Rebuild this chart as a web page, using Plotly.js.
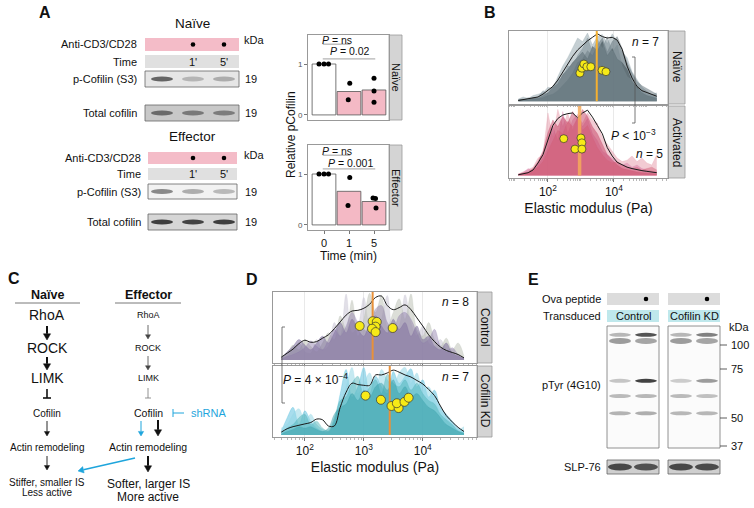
<!DOCTYPE html>
<html>
<head>
<meta charset="utf-8">
<script src="https://cdn.plot.ly/plotly-3.0.1.min.js"></script>
<style>
  html, body { margin: 0; padding: 0; background: #fff; }
  #fig { width: 754px; height: 508px; }
</style>
</head>
<body>
<div id="fig"></div>
<script>
var FONT = "Liberation Sans, Arial, sans-serif";
var W = 754, H = 508;

// ---------- panel A: relative pCofilin ----------
var timeLabels = ["0", "1", "5"];
var naiveBar = [1.0, 0.46, 0.49];
var effectorBar = [1.0, 0.66, 0.46];
var naiveDotTime = [0, 0, 0, 1, 1, 2, 2, 2];
var naiveDotVal = [1, 1, 1, 0.62, 0.30, 0.72, 0.47, 0.25];
var effectorDotTime = [0, 0, 0, 1, 1, 2, 2, 2];
var effectorDotVal = [1, 1, 1, 0.93, 0.38, 0.53, 0.52, 0.33];
var naiveJitter = [-0.2, 0, 0.18, 0.03, -0.03, 0, 0, 0];
var effectorJitter = [-0.2, 0, 0.18, 0.03, -0.04, -0.04, 0.06, 0.08];

// blot band intensities (0 = none, 1 = black), lanes: 0, 1', 5'
var pCofNaive = [0.75, 0.3, 0.35];
var totCofNaive = [0.7, 0.62, 0.6];
var pCofEffector = [0.55, 0.35, 0.28];
var totCofEffector = [0.95, 0.92, 0.95];

// ---------- panel B: elastic modulus, naive vs activated ----------
var logGridB = [1.1, 1.25, 1.4, 1.55, 1.7, 1.85, 2.0, 2.15, 2.3, 2.45, 2.6, 2.75, 2.9, 3.05, 3.2,
  3.35, 3.5, 3.65, 3.8, 3.95, 4.1, 4.25, 4.4, 4.55, 4.7, 4.85, 5.0, 5.15, 5.3];
var naiveMean = [0.01, 0.02, 0.03, 0.04, 0.06, 0.10, 0.15, 0.21, 0.30, 0.42, 0.53, 0.64, 0.73, 0.80, 0.86,
  0.91, 0.96, 0.92, 0.90, 0.91, 0.87, 0.74, 0.50, 0.33, 0.21, 0.15, 0.12, 0.10, 0.07];
var naiveCell1 = [0.02, 0.03, 0.02, 0.05, 0.04, 0.08, 0.12, 0.20, 0.25, 0.38, 0.45, 0.55, 0.62, 0.70, 0.60,
  0.78, 0.72, 0.85, 0.65, 0.75, 0.60, 0.55, 0.45, 0.28, 0.20, 0.12, 0.08, 0.06, 0.04];
var naiveCell2 = [0.03, 0.06, 0.04, 0.08, 0.10, 0.12, 0.20, 0.18, 0.35, 0.50, 0.62, 0.75, 0.90, 0.85, 0.97,
  0.80, 0.92, 0.95, 0.82, 0.96, 0.85, 0.70, 0.62, 0.42, 0.30, 0.20, 0.14, 0.09, 0.12];
var naiveCell3 = [0.01, 0.02, 0.05, 0.04, 0.06, 0.15, 0.10, 0.22, 0.30, 0.33, 0.50, 0.48, 0.65, 0.75, 0.90,
  0.70, 0.88, 0.75, 0.92, 0.70, 0.80, 0.50, 0.35, 0.30, 0.18, 0.15, 0.10, 0.07, 0.05];
var naiveCell4 = [0.00, 0.01, 0.02, 0.03, 0.05, 0.05, 0.08, 0.10, 0.15, 0.22, 0.30, 0.40, 0.55, 0.60, 0.72,
  0.65, 0.80, 0.90, 0.70, 0.85, 0.92, 0.75, 0.55, 0.40, 0.28, 0.22, 0.18, 0.15, 0.10];
var activMean = [0.01, 0.02, 0.04, 0.08, 0.18, 0.30, 0.50, 0.72, 0.82, 0.87, 0.89, 0.90, 0.83, 0.90, 0.94,
  0.84, 0.72, 0.60, 0.40, 0.28, 0.19, 0.15, 0.12, 0.10, 0.08, 0.07, 0.06, 0.05, 0.04];
var activCell1 = [0.02, 0.03, 0.05, 0.10, 0.20, 0.35, 0.62, 0.80, 0.70, 0.85, 0.75, 0.92, 0.80, 0.95, 0.85,
  0.70, 0.60, 0.45, 0.30, 0.22, 0.15, 0.10, 0.08, 0.06, 0.05, 0.04, 0.03, 0.02, 0.02];
var activCell2 = [0.02, 0.05, 0.08, 0.12, 0.25, 0.30, 0.90, 0.55, 0.95, 0.70, 0.90, 0.65, 0.85, 0.75, 0.90,
  0.80, 0.75, 0.55, 0.45, 0.35, 0.25, 0.20, 0.22, 0.28, 0.20, 0.25, 0.18, 0.15, 0.30];
var activCell3 = [0.01, 0.04, 0.10, 0.06, 0.15, 0.25, 0.40, 0.70, 0.50, 0.92, 0.60, 0.80, 0.88, 0.70, 0.82,
  0.60, 0.50, 0.35, 0.30, 0.25, 0.20, 0.15, 0.18, 0.12, 0.15, 0.10, 0.08, 0.06, 0.05];
var activCell4 = [0.00, 0.02, 0.03, 0.08, 0.12, 0.20, 0.35, 0.50, 0.65, 0.60, 0.78, 0.70, 0.82, 0.65, 0.72,
  0.55, 0.40, 0.30, 0.22, 0.18, 0.20, 0.15, 0.12, 0.10, 0.12, 0.08, 0.10, 0.12, 0.08];
var medianLogB = [3.48, 2.96];
var naiveCellLogE = [2.97, 3.03, 3.09, 3.18, 3.30, 3.64, 3.76];
var naiveCellY = [0.40, 0.47, 0.53, 0.49, 0.49, 0.44, 0.42];
var activCellLogE = [2.48, 3.00, 3.03, 2.82, 3.03];
var activCellY = [0.53, 0.54, 0.47, 0.38, 0.38];

// ---------- panel D: control vs cofilin KD ----------
var logGridD = [1.6, 1.7, 1.8, 1.9, 2.0, 2.1, 2.2, 2.3, 2.4, 2.5, 2.6, 2.7, 2.8, 2.9, 3.0, 3.1,
  3.2, 3.3, 3.4, 3.5, 3.6, 3.7, 3.8, 3.9, 4.0, 4.1, 4.2, 4.3, 4.4, 4.5, 4.6, 4.7];
var ctrlMean = [0.04, 0.10, 0.16, 0.24, 0.29, 0.26, 0.27, 0.32, 0.37, 0.46, 0.56, 0.66, 0.72, 0.73, 0.76, 0.82,
  0.92, 0.94, 0.80, 0.74, 0.77, 0.81, 0.74, 0.62, 0.50, 0.37, 0.27, 0.19, 0.14, 0.11, 0.08, 0.03];
var ctrlCell1 = [0.02, 0.06, 0.15, 0.25, 0.12, 0.10, 0.30, 0.15, 0.20, 0.55, 0.35, 0.97, 0.40, 0.50, 0.92, 0.45,
  0.30, 0.60, 0.95, 0.40, 0.50, 0.96, 0.55, 0.35, 0.50, 0.25, 0.20, 0.30, 0.15, 0.10, 0.05, 0.03];
var ctrlCell2 = [0.05, 0.10, 0.22, 0.15, 0.30, 0.20, 0.12, 0.25, 0.40, 0.30, 0.65, 0.45, 0.88, 0.35, 0.60, 0.98,
  0.70, 0.95, 0.50, 0.70, 0.90, 0.60, 0.97, 0.45, 0.35, 0.55, 0.30, 0.20, 0.32, 0.15, 0.25, 0.05];
var ctrlCell3 = [0.03, 0.12, 0.20, 0.30, 0.22, 0.15, 0.25, 0.35, 0.25, 0.40, 0.55, 0.40, 0.60, 0.45, 0.35, 0.55,
  0.65, 0.50, 0.40, 0.60, 0.45, 0.55, 0.35, 0.50, 0.30, 0.35, 0.20, 0.15, 0.25, 0.10, 0.06, 0.02];
var ctrlCell4 = [0.01, 0.05, 0.08, 0.12, 0.18, 0.28, 0.20, 0.15, 0.30, 0.45, 0.35, 0.50, 0.70, 0.55, 0.45, 0.40,
  0.75, 0.80, 0.55, 0.45, 0.65, 0.70, 0.60, 0.40, 0.25, 0.30, 0.45, 0.20, 0.12, 0.18, 0.08, 0.02];
var kdMean = [0.04, 0.09, 0.12, 0.14, 0.16, 0.18, 0.23, 0.22, 0.13, 0.13, 0.40, 0.62, 0.75, 0.73, 0.72, 0.72,
  0.87, 0.87, 0.90, 0.94, 0.91, 0.87, 0.84, 0.79, 0.74, 0.66, 0.57, 0.42, 0.28, 0.19, 0.11, 0.05];
var kdCell1 = [0.05, 0.25, 0.40, 0.15, 0.35, 0.20, 0.10, 0.05, 0.04, 0.20, 0.60, 0.95, 0.55, 0.70, 0.98, 0.60,
  0.85, 0.70, 0.60, 0.92, 0.75, 0.85, 0.96, 0.70, 0.80, 0.55, 0.65, 0.40, 0.30, 0.20, 0.10, 0.05];
var kdCell2 = [0.10, 0.15, 0.30, 0.38, 0.20, 0.30, 0.15, 0.08, 0.05, 0.15, 0.45, 0.70, 0.98, 0.60, 0.75, 0.90,
  0.65, 0.95, 0.80, 0.70, 0.90, 0.98, 0.75, 0.90, 0.65, 0.70, 0.50, 0.35, 0.25, 0.15, 0.08, 0.12];
var kdCell3 = [0.02, 0.10, 0.15, 0.25, 0.30, 0.15, 0.20, 0.10, 0.06, 0.25, 0.50, 0.55, 0.75, 0.85, 0.55, 0.70,
  0.80, 0.60, 0.88, 0.75, 0.70, 0.80, 0.65, 0.75, 0.60, 0.50, 0.45, 0.30, 0.22, 0.15, 0.06, 0.03];
var kdCell4 = [0.01, 0.05, 0.08, 0.12, 0.10, 0.12, 0.08, 0.05, 0.10, 0.30, 0.40, 0.45, 0.60, 0.50, 0.65, 0.55,
  0.70, 0.75, 0.65, 0.80, 0.60, 0.70, 0.55, 0.60, 0.50, 0.40, 0.35, 0.25, 0.15, 0.10, 0.05, 0.02];
var medianLogD = [3.15, 3.44];
var ctrlCellLogE = [2.93, 3.15, 3.22, 3.20, 3.14, 3.20, 3.49];
var ctrlCellY = [0.50, 0.57, 0.56, 0.49, 0.46, 0.41, 0.47];
var kdCellLogE = [3.03, 3.29, 3.47, 3.59, 3.56, 3.69, 3.76];
var kdCellY = [0.57, 0.51, 0.42, 0.39, 0.46, 0.48, 0.54];

// ---------- panel E: pTyr blot ----------
var markerKda = [100, 75, 50, 37];
var pTyrBandKda = [113, 105, 68, 60, 52];
var ctrlUnstim = [0.30, 0.45, 0.22, 0.28, 0.32];
var ctrlOva = [0.85, 0.40, 0.95, 0.30, 0.35];
var kdUnstim = [0.30, 0.45, 0.18, 0.28, 0.30];
var kdOva = [0.60, 0.40, 0.45, 0.25, 0.30];
var slp76 = [0.9, 0.85, 0.9, 0.88];

// ---------- panel C: pathway ----------
var naiveSteps = ["RhoA", "ROCK", "LIMK", "Cofilin", "Actin remodeling"];
var effectorSteps = ["RhoA", "ROCK", "LIMK", "Cofilin", "Actin remodeling"];
var naiveOutcome = ["Stiffer, smaller IS", "Less active"];
var effectorOutcome = ["Softer, larger IS", "More active"];

// ================= helpers =================
function fx(x) { return x / W; }
function fy(y) { return 1 - y / H; }
function txt(s, x, y, size, o) {
  o = o || {};
  return {
    text: s, x: fx(x), y: fy(y), xref: "paper", yref: "paper", showarrow: false,
    xanchor: o.xa || "center", yanchor: o.ya || "middle", textangle: o.rot || 0,
    font: { family: FONT, size: size, color: o.color || "#111" }
  };
}
function rect(x0, y0, x1, y1, fill, lc, lw) {
  return {
    type: "rect", xref: "paper", yref: "paper", x0: fx(x0), x1: fx(x1), y0: fy(y1), y1: fy(y0),
    fillcolor: fill, line: { color: lc || "rgba(0,0,0,0)", width: lw || 0 }, layer: "below"
  };
}
function seg(x0, y0, x1, y1, color, w) {
  return {
    type: "line", xref: "paper", yref: "paper", x0: fx(x0), y0: fy(y0), x1: fx(x1), y1: fy(y1),
    line: { color: color, width: w }
  };
}
function band(cx, cy, w, h, intensity) {
  var g = Math.round(235 - intensity * 200);
  return {
    type: "circle", xref: "paper", yref: "paper", x0: fx(cx - w / 2), x1: fx(cx + w / 2),
    y0: fy(cy + h / 2), y1: fy(cy - h / 2),
    fillcolor: "rgba(" + g + "," + g + "," + g + ",0.9)", line: { width: 0 }
  };
}
// arrow drawn as a line plus a filled head
function arrow(x0, y0, x1, y1, w, color) {
  color = color || "#111";
  var dx = x1 - x0, dy = y1 - y0, len = Math.sqrt(dx * dx + dy * dy);
  var ux = dx / len, uy = dy / len;
  var hl = 3 + w * 1.6, hw = 1.8 + w * 0.9;
  var bx = x1 - ux * hl, by = y1 - uy * hl;
  shapes.push(seg(x0, y0, bx, by, color, w));
  shapes.push({
    type: "path", xref: "paper", yref: "paper", fillcolor: color, line: { color: color, width: 0.5 },
    path: "M" + fx(x1) + "," + fy(y1) +
      " L" + fx(bx - uy * hw) + "," + fy(by + ux * hw) +
      " L" + fx(bx + uy * hw) + "," + fy(by - ux * hw) + " Z"
  });
}
function pow10(arr) { return arr.map(function (v) { return Math.pow(10, v); }); }

var traces = [];
var shapes = [];
var annotations = [];

// ================= panel A bars =================
function barFacet(means, dotT, dotV, jitter, xa, ya) {
  traces.push({
    type: "bar", x: [0, 1, 2], y: means, width: 0.95, xaxis: xa, yaxis: ya,
    marker: { color: ["#ffffff", "#f4b9c5", "#f4b9c5"], line: { color: "#555", width: 0.8 } },
    hoverinfo: "skip", showlegend: false
  });
  traces.push({
    type: "scatter", mode: "markers", xaxis: xa, yaxis: ya, showlegend: false,
    x: dotT.map(function (t, i) { return t + jitter[i]; }), y: dotV,
    marker: { color: "#000", size: 5 }
  });
}
barFacet(naiveBar, naiveDotTime, naiveDotVal, naiveJitter, "x", "y");
barFacet(effectorBar, effectorDotTime, effectorDotVal, effectorJitter, "x2", "y2");

function pAnn(xa, ya, label1, y1, l1, label2, y2, l2) {
  annotations.push({ text: label1, x: 0.5, y: y1, xref: xa, yref: ya, showarrow: false,
    font: { family: FONT, size: 10.5, color: "#111" } });
  annotations.push({ text: label2, x: 1.05, y: y2, xref: xa, yref: ya, showarrow: false,
    font: { family: FONT, size: 10.5, color: "#111" } });
  shapes.push({ type: "line", xref: xa, yref: ya, x0: -0.05, x1: 1.05, y0: l1, y1: l1, line: { color: "#777", width: 0.7 } });
  shapes.push({ type: "line", xref: xa, yref: ya, x0: -0.05, x1: 2.05, y0: l2, y1: l2, line: { color: "#777", width: 0.7 } });
}
pAnn("x", "y", "<i>P</i> = ns", 1.47, 1.39, "<i>P</i> = 0.02", 1.25, 1.1);
pAnn("x2", "y2", "<i>P</i> = ns", 1.46, 1.37, "<i>P</i> = 0.001", 1.22, 1.1);

// strips
shapes.push(rect(389, 35, 402, 120, "#d4d4d4", "#999", 0.8));
shapes.push(rect(389, 145, 402, 230, "#d4d4d4", "#999", 0.8));
annotations.push(txt("Naïve", 396, 78, 11, { rot: 90 }));
annotations.push(txt("Effector", 396, 188, 11, { rot: 90 }));
annotations.push(txt("Relative pCofilin", 291, 135, 12, { rot: -90 }));

// ================= panel A blots =================
var laneA = [162, 193, 224];
function blotBlock(top, title, xl, xr, lab, rows) {
  annotations.push(txt(title, (xl + xr) / 2, top, 13.5));
  rows.forEach(function (r) {
    annotations.push(txt(r.label, lab, (r.y0 + r.y1) / 2, 11, { xa: "right" }));
    if (r.kind === "pink" || r.kind === "gray") {
      shapes.push(rect(xl, r.y0, xr, r.y1, r.kind === "pink" ? "#f4bcc8" : "#e0e0e0"));
      if (r.kind === "pink") {
        [1, 2].forEach(function (i) {
          shapes.push({ type: "circle", xref: "paper", yref: "paper",
            x0: fx(laneA[i] - 2.3), x1: fx(laneA[i] + 2.3),
            y0: fy((r.y0 + r.y1) / 2 + 2.3), y1: fy((r.y0 + r.y1) / 2 - 2.3),
            fillcolor: "#000", line: { width: 0 } });
        });
      } else {
        annotations.push(txt("1'", laneA[1], (r.y0 + r.y1) / 2, 11));
        annotations.push(txt("5'", laneA[2], (r.y0 + r.y1) / 2, 11));
      }
    } else {
      shapes.push(rect(xl, r.y0, xr, r.y1, r.bg, "#666", 0.8));
      r.bands.forEach(function (v, i) {
        shapes.push(band(laneA[i], (r.y0 + r.y1) / 2, 22, 5, v));
      });
      annotations.push(txt("19", 243, (r.y0 + r.y1) / 2, 11, { xa: "left" }));
    }
  });
}
blotBlock(23, "Naïve", 145, 239, 139, [
  { label: "Anti-CD3/CD28", kind: "pink", y0: 38, y1: 51 },
  { label: "Time", kind: "gray", y0: 55, y1: 68 },
  { label: "p-Cofilin (S3)", kind: "blot", y0: 71, y1: 87, bg: "#e6e6e6", bands: pCofNaive },
  { label: "Total cofilin", kind: "blot", y0: 105, y1: 121, bg: "#c8c8c8", bands: totCofNaive }
]);
blotBlock(137, "Effector", 148, 237, 143, [
  { label: "Anti-CD3/CD28", kind: "pink", y0: 152, y1: 164 },
  { label: "Time", kind: "gray", y0: 168, y1: 180 },
  { label: "p-Cofilin (S3)", kind: "blot", y0: 184, y1: 199, bg: "#f2f2f2", bands: pCofEffector },
  { label: "Total cofilin", kind: "blot", y0: 214, y1: 230, bg: "#d6d6d6", bands: totCofEffector }
]);
annotations.push(txt("kDa", 242, 40, 11, { xa: "left" }));
annotations.push(txt("kDa", 242, 155, 11, { xa: "left" }));

// ================= density facets (B, D) =================
function densityFacet(grid, cells, fills, mean, xa, ya, shape, median, medColor, medWidth, dotLog, dotY, dotSize) {
  var xs = pow10(grid);
  cells.forEach(function (c, i) {
    traces.push({
      type: "scatter", mode: "lines", x: xs, y: c, xaxis: xa, yaxis: ya, fill: "tozeroy",
      fillcolor: fills[i], line: { color: fills[i], width: 0.5, shape: shape }, showlegend: false
    });
  });
  traces.push({
    type: "scatter", mode: "lines", x: xs, y: mean, xaxis: xa, yaxis: ya,
    line: { color: "#1a1a1a", width: 1, shape: shape }, showlegend: false
  });
  var m = Math.pow(10, median);
  traces.push({
    type: "scatter", mode: "lines", x: [m, m], y: [0, 1.0], xaxis: xa, yaxis: ya,
    line: { color: medColor, width: medWidth }, showlegend: false
  });
  traces.push({
    type: "scatter", mode: "markers", x: pow10(dotLog), y: dotY, xaxis: xa, yaxis: ya,
    marker: { color: "#f7ea17", size: dotSize, line: { color: "#333", width: 0.7 } }, showlegend: false
  });
}
var slate = ["rgba(150,168,174,0.55)", "rgba(95,112,120,0.5)", "rgba(60,76,84,0.55)", "rgba(120,138,146,0.5)"];
densityFacet(logGridB, [naiveCell2, naiveCell4, naiveCell1, naiveCell3], slate, naiveMean, "x3", "y3",
  "linear", medianLogB[0], "#f5b030", 2, naiveCellLogE, naiveCellY, 8);
var pinks = ["rgba(232,160,175,0.55)", "rgba(205,95,150,0.35)", "rgba(196,64,98,0.5)", "rgba(210,90,115,0.45)"];
densityFacet(logGridB, [activCell2, activCell3, activCell1, activCell4], pinks, activMean, "x4", "y4",
  "linear", medianLogB[1], "rgba(245,170,90,0.85)", 3.5, activCellLogE, activCellY, 8);
var purples = ["rgba(200,196,212,0.55)", "rgba(185,190,178,0.5)", "rgba(112,96,148,0.5)", "rgba(140,122,168,0.45)"];
densityFacet(logGridD, [ctrlCell1, ctrlCell2, ctrlCell3, ctrlCell4], purples, ctrlMean, "x5", "y5",
  "spline", medianLogD[0], "#e8913a", 2, ctrlCellLogE, ctrlCellY, 9);
var cyans = ["rgba(60,180,215,0.45)", "rgba(150,215,230,0.55)", "rgba(70,175,180,0.45)", "rgba(55,160,170,0.5)"];
densityFacet(logGridD, [kdCell1, kdCell2, kdCell3, kdCell4], cyans, kdMean, "x6", "y6",
  "spline", medianLogD[1], "#e8913a", 2, kdCellLogE, kdCellY, 9);

// strips B and D
shapes.push(rect(668, 31, 685, 104, "#d4d4d4", "#999", 0.8));
shapes.push(rect(668, 106, 685, 178, "#d4d4d4", "#999", 0.8));
annotations.push(txt("Naïve", 677, 67, 12, { rot: 90 }));
annotations.push(txt("Activated", 677, 142, 12, { rot: 90 }));
shapes.push(rect(477, 292, 492, 363, "#d4d4d4", "#999", 0.8));
shapes.push(rect(477, 366, 492, 437, "#d4d4d4", "#999", 0.8));
annotations.push(txt("Control", 485, 327, 12, { rot: 90 }));
annotations.push(txt("Cofilin KD", 485, 401, 12, { rot: 90 }));

// stats B and D
annotations.push(txt("<i>n</i> = 7", 645, 42, 12));
annotations.push(txt("<i>P</i> < 10<sup>−3</sup>", 633, 135, 12));
annotations.push(txt("<i>n</i> = 5", 649, 154, 12));
shapes.push({ type: "path", xref: "paper", yref: "paper", line: { color: "#555", width: 0.8 },
  path: "M" + fx(632) + "," + fy(57) + " L" + fx(635) + "," + fy(57) + " L" + fx(635) + "," + fy(123) + " L" + fx(632) + "," + fy(123) });
annotations.push(txt("<i>n</i> = 8", 456, 302, 12));
annotations.push(txt("<i>n</i> = 7", 456, 377, 12));
annotations.push(txt("<i>P</i> = 4 × 10<sup>−4</sup>", 315, 379, 12));
shapes.push({ type: "path", xref: "paper", yref: "paper", line: { color: "#555", width: 0.8 },
  path: "M" + fx(285) + "," + fy(327) + " L" + fx(282) + "," + fy(327) + " L" + fx(282) + "," + fy(403) + " L" + fx(285) + "," + fy(403) });

// ================= panel C pathway =================
annotations.push(txt("<b>Naïve</b>", 47, 295, 12.5));
annotations.push(txt("<b>Effector</b>", 148, 295, 12.5));
shapes.push(seg(15, 303, 80, 303, "#555", 0.8));
shapes.push(seg(115, 303, 181, 303, "#555", 0.8));
var stepY = [315, 348, 378, 413, 447];
var naiveSize = [14, 14, 14, 10, 10];
var effSize = [9, 9, 9, 10.5, 10.5];
naiveSteps.forEach(function (s, i) { annotations.push(txt(s, 47, stepY[i], naiveSize[i])); });
effectorSteps.forEach(function (s, i) { annotations.push(txt(s, 148, stepY[i], effSize[i])); });
annotations.push(txt(naiveOutcome[0], 47, 482, 10));
annotations.push(txt(naiveOutcome[1], 47, 492, 10));
annotations.push(txt(effectorOutcome[0], 148, 484, 12));
annotations.push(txt(effectorOutcome[1], 148, 497, 12));
// naive arrows
arrow(47, 326, 47, 340, 2);
arrow(47, 357, 47, 370, 2);
shapes.push(seg(47, 389, 47, 398, "#111", 1.6));
shapes.push(seg(43, 398, 51, 398, "#111", 1.6));
arrow(47, 421, 47, 436, 0.9);
arrow(47, 456, 47, 470, 0.9);
// effector arrows
arrow(148, 325, 148, 339, 0.8, "#444");
arrow(148, 356, 148, 370, 0.8, "#444");
shapes.push(seg(148, 388, 148, 398, "#777", 0.8));
shapes.push(seg(145, 398, 151, 398, "#777", 0.8));
arrow(158, 420, 158, 436, 2);
arrow(141, 421, 141, 436, 1, "#1ea5dc");
arrow(148, 456, 148, 472, 2);
arrow(135, 458, 78, 471, 1.6, "#1ea5dc");
shapes.push(seg(173, 409, 173, 417, "#1ea5dc", 1));
shapes.push(seg(173, 413, 184, 413, "#1ea5dc", 1));
annotations.push(txt("shRNA", 189, 413, 11, { xa: "left", color: "#1ea5dc" }));

// ================= panel E blot =================
var markerY = [345, 369, 418, 446];
function kdaToY(k) {
  var lk = Math.log10(k), lm = markerKda.map(Math.log10);
  var i = 0;
  if (lk < lm[1]) i = lk < lm[2] ? 2 : 1;
  return markerY[i] + (lm[i] - lk) / (lm[i] - lm[i + 1]) * (markerY[i + 1] - markerY[i]);
}
var blotE = [[607, 659], [668, 720]];
var lanesE = [[620, 646], [681, 707]];
var groupLabels = ["Control", "Cofilin KD"];
annotations.push(txt("Ova peptide", 603, 299, 11, { xa: "right" }));
annotations.push(txt("Transduced", 603, 316, 11, { xa: "right" }));
annotations.push(txt("pTyr (4G10)", 603, 385, 11, { xa: "right" }));
annotations.push(txt("SLP-76", 603, 467, 11, { xa: "right" }));
annotations.push(txt("kDa", 727, 327, 11, { xa: "left" }));
var laneBands = [[ctrlUnstim, ctrlOva], [kdUnstim, kdOva]];
blotE.forEach(function (b, g) {
  shapes.push(rect(b[0], 293, b[1], 305, "#dcdcdc"));
  shapes.push({ type: "circle", xref: "paper", yref: "paper",
    x0: fx(lanesE[g][1] - 2.3), x1: fx(lanesE[g][1] + 2.3), y0: fy(301.3), y1: fy(296.7),
    fillcolor: "#000", line: { width: 0 } });
  shapes.push(rect(b[0], 310, b[1], 322, "#bfe8ec"));
  annotations.push(txt(groupLabels[g], (b[0] + b[1]) / 2, 316, 11));
  shapes.push(rect(b[0], 326, b[1], 448, "#fbfbfb", "#777", 0.8));
  shapes.push(rect(b[0], 460, b[1], 474, "#cfcfcf", "#666", 0.8));
  laneBands[g].forEach(function (vals, l) {
    vals.forEach(function (v, r) {
      shapes.push(band(lanesE[g][l], kdaToY(pTyrBandKda[r]), 22, r === 1 ? 6 : 4, v));
    });
    shapes.push(band(lanesE[g][l], 467, 24, 7, slp76[g * 2 + l]));
  });
});
markerKda.forEach(function (k, i) {
  shapes.push(seg(720, markerY[i], 727, markerY[i], "#333", 0.8));
  annotations.push(txt(String(k), 729, markerY[i], 11, { xa: "left" }));
});

// panel letters
[["A", 45, 13], ["B", 490, 13], ["C", 14, 278], ["D", 252, 279], ["E", 533, 279]].forEach(function (p) {
  annotations.push(txt("<b>" + p[0] + "</b>", p[1], p[2], 16));
});

// ================= axes =================
function dom(a, b, size) { return [a / size, b / size]; }
var frame = { showline: true, mirror: true, linecolor: "#999", linewidth: 1, zeroline: false };
function barY(y0, y1) {
  return Object.assign({}, frame, {
    domain: [1 - y1 / H, 1 - y0 / H], range: [-0.1, 1.57], tickvals: [0, 1], ticks: "outside",
    ticklen: 3, tickcolor: "#777", showgrid: false, tickfont: { family: FONT, size: 8, color: "#555" }
  });
}
function barX(anchor, labels) {
  return Object.assign({}, frame, {
    domain: dom(308, 389, W), range: [-0.64, 2.6], anchor: anchor, tickvals: [0, 1, 2],
    ticktext: timeLabels, showticklabels: labels, ticks: labels ? "outside" : "", ticklen: 3,
    tickcolor: "#777", showgrid: false, tickfont: { family: FONT, size: 11, color: "#111" }
  });
}
function logX(anchor, x0, x1, range, tv, tt, labels, title) {
  var ax = Object.assign({}, frame, {
    type: "log", domain: dom(x0, x1, W), range: range, anchor: anchor, tickvals: tv, ticktext: tt,
    showticklabels: labels, ticks: "outside", ticklen: 3, tickcolor: "#777",
    showgrid: true, gridcolor: "#e4e4e4", gridwidth: 0.8,
    tickfont: { family: FONT, size: 12, color: "#111" },
    minor: { ticks: "outside", ticklen: 2, tickcolor: "#888", tickwidth: 0.6, dtick: "D1", showgrid: false }
  });
  if (title) ax.title = { text: title, font: { family: FONT, size: 14, color: "#111" }, standoff: 4 };
  return ax;
}
function densY(anchor, y0, y1, lo) {
  return Object.assign({}, frame, {
    domain: [1 - y1 / H, 1 - y0 / H], range: [lo, 1.0], anchor: anchor,
    showticklabels: false, ticks: "", showgrid: false
  });
}

var layout = {
  width: W, height: H, margin: { l: 0, r: 0, t: 0, b: 0 },
  paper_bgcolor: "#ffffff", plot_bgcolor: "#ffffff", showlegend: false,
  font: { family: FONT, color: "#111" },
  xaxis: barX("y", false), yaxis: Object.assign(barY(35, 120), { anchor: "x" }),
  xaxis2: Object.assign(barX("y2", true), { title: { text: "Time (min)", font: { family: FONT, size: 12 }, standoff: 1 } }),
  yaxis2: Object.assign(barY(145, 230), { anchor: "x2" }),
  xaxis3: logX("y3", 509, 668, [0.82, 5.64], [100, 1e4], ["10<sup>2</sup>", "10<sup>4</sup>"], false),
  yaxis3: densY("x3", 31, 104, -0.04),
  xaxis4: logX("y4", 509, 668, [0.82, 5.64], [100, 1e4], ["10<sup>2</sup>", "10<sup>4</sup>"], true, "Elastic modulus (Pa)"),
  yaxis4: densY("x4", 106, 178, -0.036),
  xaxis5: logX("y5", 273, 477, [1.46, 4.92], [100, 1e3, 1e4], ["10<sup>2</sup>", "10<sup>3</sup>", "10<sup>4</sup>"], false),
  yaxis5: densY("x5", 292, 363, -0.045),
  xaxis6: logX("y6", 273, 477, [1.46, 4.92], [100, 1e3, 1e4], ["10<sup>2</sup>", "10<sup>3</sup>", "10<sup>4</sup>"], true, "Elastic modulus (Pa)"),
  yaxis6: densY("x6", 366, 437, -0.03),
  shapes: shapes, annotations: annotations
};

Plotly.newPlot("fig", traces, layout, { displayModeBar: false, staticPlot: true });
</script>
</body>
</html>
